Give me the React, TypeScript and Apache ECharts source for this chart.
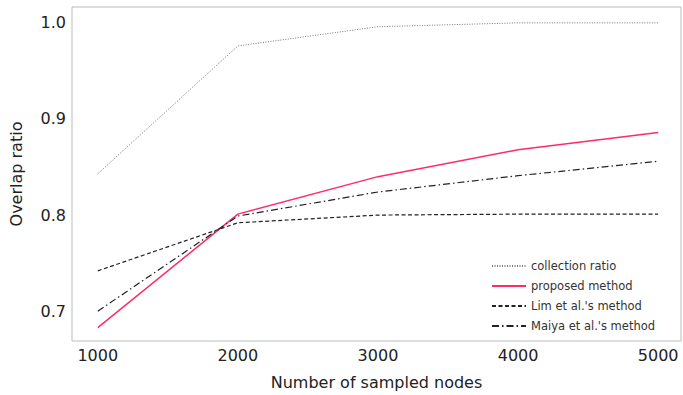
import React, { useEffect, useRef } from "react";
import * as echarts from "echarts";

const nodes = [1000, 2000, 3000, 4000, 5000];
const collectionRatio = [0.843, 0.976, 0.996, 1.0, 1.0];
const proposed = [0.683, 0.801, 0.840, 0.868, 0.886];
const lim = [0.742, 0.792, 0.8, 0.801, 0.801];
const maiya = [0.7, 0.799, 0.824, 0.841, 0.856];
const xTicks = [1000, 2000, 3000, 4000, 5000];
const yTicks = [0.7, 0.8, 0.9, 1.0];

const pairs = (ys: number[]) => nodes.map((x, i) => [x, ys[i]]);

export default function App() {
  const ref = useRef<HTMLDivElement>(null);
  useEffect(() => {
    if (!ref.current) return;
    const chart = echarts.init(ref.current, null, { renderer: "svg" });
    const font = "DejaVu Sans";
    chart.setOption({
      animation: false,
      backgroundColor: "#fff",
      grid: {
        left: 67,
        right: 2,
        top: 7,
        bottom: 52,
        show: true,
        borderColor: "#bbbbbb",
        borderWidth: 1,
      },
      legend: {
        orient: "vertical",
        left: 486,
        top: 258,
        padding: [2, 5],
        itemWidth: 34,
        itemHeight: 10,
        itemGap: 8,
        itemStyle: { opacity: 0 },
        textStyle: { fontFamily: font, fontSize: 11.5, color: "#333" },
        data: ["collection ratio", "proposed method", "Lim et al.'s method", "Maiya et al.'s method"],
      },
      xAxis: {
        type: "value",
        min: 816,
        max: 5163,
        name: "Number of sampled nodes",
        nameLocation: "middle",
        nameGap: 33,
        nameTextStyle: { fontFamily: font, fontSize: 16, color: "#222" },
        axisLine: { show: false },
        axisTick: { show: false },
        splitLine: { show: false },
        axisLabel: {
          customValues: xTicks,
          fontFamily: font,
          fontSize: 16,
          color: "#222",
          margin: 6,
          formatter: (v: number) => String(v),
        },
      },
      yAxis: {
        type: "value",
        min: 0.669,
        max: 1.0165,
        name: "Overlap ratio",
        nameLocation: "middle",
        nameGap: 48,
        nameTextStyle: { fontFamily: font, fontSize: 16, color: "#222" },
        axisLine: { show: false },
        axisTick: { show: false },
        splitLine: { show: false },
        axisLabel: {
          customValues: yTicks,
          fontFamily: font,
          fontSize: 16,
          color: "#222",
          margin: 6,
          formatter: (v: number) => v.toFixed(1),
        },
      },
      series: [
        {
          name: "collection ratio",
          type: "line",
          data: pairs(collectionRatio),
          symbol: "none",
          lineStyle: { color: "#777", width: 1, type: [1, 1.5] },
          itemStyle: { color: "#777" },
        },
        {
          name: "proposed method",
          type: "line",
          data: pairs(proposed),
          symbol: "none",
          lineStyle: { color: "#ff2a6a", width: 1.5, type: "solid" },
          itemStyle: { color: "#ff2a6a" },
        },
        {
          name: "Lim et al.'s method",
          type: "line",
          data: pairs(lim),
          symbol: "none",
          lineStyle: { color: "#222", width: 1.2, type: [4, 2.5] },
          itemStyle: { color: "#222" },
        },
        {
          name: "Maiya et al.'s method",
          type: "line",
          data: pairs(maiya),
          symbol: "none",
          lineStyle: { color: "#222", width: 1.2, type: [7, 3, 1.5, 3] },
          itemStyle: { color: "#222" },
        },
      ],
    });
    return () => chart.dispose();
  }, []);
  return <div ref={ref} style={{ width: 683, height: 395, position: "absolute", left: 0, top: 0 }} />;
}
